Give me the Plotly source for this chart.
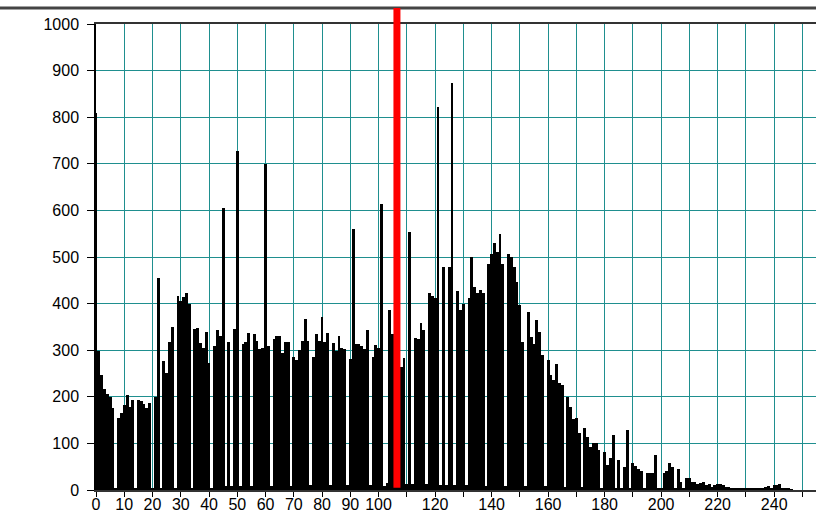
import plotly.graph_objects as go

# Histogram counts per intensity bin (bins 0..255)
EDGE_BIN = [810]
REST_BINS = [
    299, 247, 217, 207, 200, 175, 3, 155, 165, 182,
    204, 178, 193, 3, 193, 191, 185, 175, 187, 3,
    200, 456, 3, 277, 252, 318, 350, 3, 417, 405,
    415, 422, 400, 3, 345, 347, 315, 305, 340, 273,
    3, 310, 343, 330, 605, 8, 318, 8, 345, 728,
    8, 313, 318, 337, 8, 334, 320, 302, 304, 700,
    310, 8, 323, 331, 330, 295, 318, 318, 8, 286,
    280, 300, 320, 366, 320, 10, 286, 334, 320, 372,
    318, 337, 10, 315, 298, 330, 305, 302, 10, 282,
    560, 313, 313, 310, 303, 343, 10, 286, 312, 305,
    614, 8, 14, 387, 334, 630, 300, 265, 283, 12,
    554, 12, 327, 325, 358, 343, 12, 423, 416, 413,
    822, 10, 479, 10, 479, 873, 10, 428, 386, 400,
    10, 411, 499, 435, 423, 430, 423, 8, 486, 506,
    529, 511, 549, 484, 8, 506, 499, 479, 446, 397,
    318, 8, 383, 328, 313, 365, 340, 290, 8, 278,
    247, 236, 270, 230, 225, 6, 200, 178, 152, 155,
    123, 6, 132, 114, 93, 100, 100, 86, 5, 82,
    54, 68, 118, 5, 64, 5, 50, 129, 5, 57,
    52, 46, 40, 3, 37, 37, 37, 75, 3, 3,
    36, 40, 57, 50, 3, 46, 18, 3, 25, 25,
    18, 18, 12, 14, 17, 10, 12, 7, 10, 12,
    12, 10, 7, 6, 5, 4, 4, 5, 5, 4,
    4, 3, 3, 4, 3, 5, 6, 8, 5, 10,
    10, 12, 5, 5, 5, 2, 0, 0, 0, 0,
    0, 0, 0, 0, 0,
]
COUNTS = EDGE_BIN + REST_BINS
BINS = list(range(len(COUNTS)))

X_TICK_VALUES = list(range(0, 251, 10))
X_TICK_LABELS = ["0", "10", "20", "30", "40", "50", "60", "70", "80", "90", "100",
                 "", "120", "", "140", "", "160", "", "180", "", "200", "", "220", "", "240", ""]
Y_TICK_VALUES = list(range(0, 1001, 100))
Y_TICK_LABELS = [str(v) for v in Y_TICK_VALUES]

MARKER_X = 106.5  # red threshold marker position

W, H = 816, 524
ML, MR, MT, MB = 96, 0, 24, 34
X_MAX = 254.8
GRID = "#1f8f8f"

fig = go.Figure()
fig.add_trace(go.Bar(
    x=BINS, y=COUNTS, width=1,
    marker=dict(color="black", line=dict(width=0)),
    hoverinfo="x+y",
))

plot_w = W - ML - MR
plot_h = H - MT - MB

fig.update_layout(
    width=W, height=H,
    margin=dict(l=ML, r=MR, t=MT, b=MB, pad=0, autoexpand=False),
    paper_bgcolor="white", plot_bgcolor="white",
    bargap=0, showlegend=False,
    font=dict(family="Liberation Sans, Arial, sans-serif", size=16, color="black"),
    xaxis=dict(
        range=[0, X_MAX], tickmode="array", tickvals=X_TICK_VALUES, ticktext=X_TICK_LABELS,
        showgrid=True, gridcolor=GRID, gridwidth=1, zeroline=False,
        ticks="outside", ticklen=5, tickcolor="black", tickwidth=1,
        showline=True, linecolor="#333333", linewidth=1.5, mirror=True,
        tickfont=dict(size=16), ticklabelstandoff=-6, automargin=False,
    ),
    yaxis=dict(
        range=[0, 1000], tickmode="array", tickvals=Y_TICK_VALUES, ticktext=Y_TICK_LABELS,
        showgrid=True, gridcolor=GRID, gridwidth=1, zeroline=False,
        ticks="outside", ticklen=7, tickcolor="black", tickwidth=1,
        showline=True, linecolor="black", linewidth=1.5,
        tickfont=dict(size=16), ticklabelstandoff=5, automargin=False,
    ),
    shapes=[
        dict(type="line", xref="paper", yref="paper",
             x0=-ML / plot_w, x1=1, y0=1 + 16 / plot_h, y1=1 + 16 / plot_h,
             line=dict(color="#444444", width=3)),
        dict(type="line", xref="x", yref="paper",
             x0=MARKER_X, x1=MARKER_X, y0=0.005, y1=1 + 16 / plot_h,
             line=dict(color="#ff0000", width=7), layer="above"),
    ],
)

fig.write_html(
    "out.html",
    config={"displayModeBar": False},
    post_script="document.body.style.margin='0';document.body.style.overflow='hidden';",
)
